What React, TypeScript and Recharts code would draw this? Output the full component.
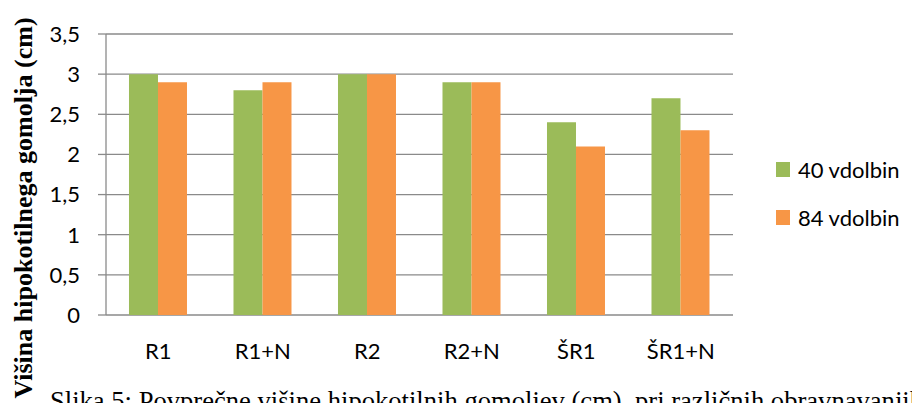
import React from "react";
import { BarChart, Bar, XAxis, YAxis, CartesianGrid, Legend } from "recharts";

// Treatments along the x axis
const categories = ["R1", "R1+N", "R2", "R2+N", "ŠR1", "ŠR1+N"];
// Mean tuber height (cm) per planting density
const holes40 = [3.0, 2.8, 3.0, 2.9, 2.4, 2.7];
const holes84 = [2.9, 2.9, 3.0, 2.9, 2.1, 2.3];
const yTicks = [0, 0.5, 1, 1.5, 2, 2.5, 3, 3.5];
const edgeTicks = [0, 1, 2, 3, 4, 5, 6];

const seriesNames = { a: "40 vdolbin", b: "84 vdolbin" };
const GREEN = "#9BBB59";
const ORANGE = "#F79646";
const GRID = "#8a8a8a";
const LABEL_FONT = "Lato, 'Open Sans', sans-serif";

const data = categories.map((name, i) => ({
  name,
  pos: i + 0.5,
  a: holes40[i],
  b: holes84[i],
}));

const fmt = (v: number) => String(v).replace(".", ",");

const LegendBox = () => (
  <div style={{ fontFamily: LABEL_FONT, fontSize: 22, color: "#000" }}>
    {[
      { label: seriesNames.a, color: GREEN },
      { label: seriesNames.b, color: ORANGE },
    ].map((it, i) => (
      <div
        key={it.label}
        style={{
          display: "flex",
          alignItems: "center",
          height: 30,
          marginTop: i === 0 ? 0 : 18,
          whiteSpace: "nowrap",
        }}
      >
        <span
          style={{
            display: "inline-block",
            width: 14,
            height: 15,
            background: it.color,
            marginRight: 8,
          }}
        />
        <span>{it.label}</span>
      </div>
    ))}
  </div>
);

export default function App() {
  return (
    <div
      style={{
        position: "fixed",
        left: 0,
        top: 0,
        width: 912,
        height: 403,
        overflow: "hidden",
        background: "#fff",
      }}
    >
      <BarChart
        width={912}
        height={403}
        data={data}
        margin={{ top: 34, right: 179, bottom: 0, left: 0 }}
        barCategoryGap="22%"
        barGap={0}
      >
        <CartesianGrid vertical={false} stroke={GRID} strokeWidth={1.3} />
        <XAxis
          xAxisId="edges"
          type="number"
          dataKey="pos"
          domain={[0, 6]}
          ticks={edgeTicks}
          allowDataOverflow
          height={0}
          tick={false}
          tickSize={7}
          tickLine={{ stroke: GRID, strokeWidth: 1.3 }}
          axisLine={{ stroke: GRID, strokeWidth: 1.3 }}
        />
        <XAxis
          xAxisId="cat"
          dataKey="name"
          height={88}
          axisLine={false}
          tickLine={false}
          tickSize={0}
          tickMargin={28}
          interval={0}
          tick={{ fill: "#000", fontSize: 22, fontFamily: LABEL_FONT }}
        />
        <YAxis
          width={106}
          domain={[0, 3.5]}
          ticks={yTicks}
          tickFormatter={fmt}
          tickSize={8}
          tickMargin={18}
          interval={0}
          axisLine={{ stroke: GRID, strokeWidth: 1.3 }}
          tickLine={{ stroke: GRID, strokeWidth: 1.3 }}
          tick={{ fill: "#000", fontSize: 22, fontFamily: LABEL_FONT }}
        />
        <Legend
          layout="horizontal"
          verticalAlign="middle"
          align="center"
          content={<LegendBox />}
          wrapperStyle={{ position: "absolute", left: 776, top: 154, width: 140, height: 80 }}
        />
        <Bar xAxisId="cat" dataKey="a" name={seriesNames.a} fill={GREEN} isAnimationActive={false} />
        <Bar xAxisId="cat" dataKey="b" name={seriesNames.b} fill={ORANGE} isAnimationActive={false} />
      </BarChart>

      <div
        style={{
          position: "absolute",
          left: 24,
          top: 208,
          transform: "translate(-50%, -50%) rotate(-90deg)",
          whiteSpace: "nowrap",
          fontFamily: "'Liberation Serif', 'Times New Roman', serif",
          fontWeight: "bold",
          fontSize: 26,
          lineHeight: "26px",
          color: "#000",
        }}
      >
        Višina hipokotilnega gomolja (cm)
      </div>

      <div
        style={{
          position: "absolute",
          left: 50,
          top: 386,
          whiteSpace: "nowrap",
          fontFamily: "'Liberation Serif', 'Times New Roman', serif",
          fontSize: 26.6,
          lineHeight: "30px",
          color: "#000",
        }}
      >
        Slika 5: Povprečne višine hipokotilnih gomoljev (cm), pri različnih obravnavanjih
      </div>
    </div>
  );
}
